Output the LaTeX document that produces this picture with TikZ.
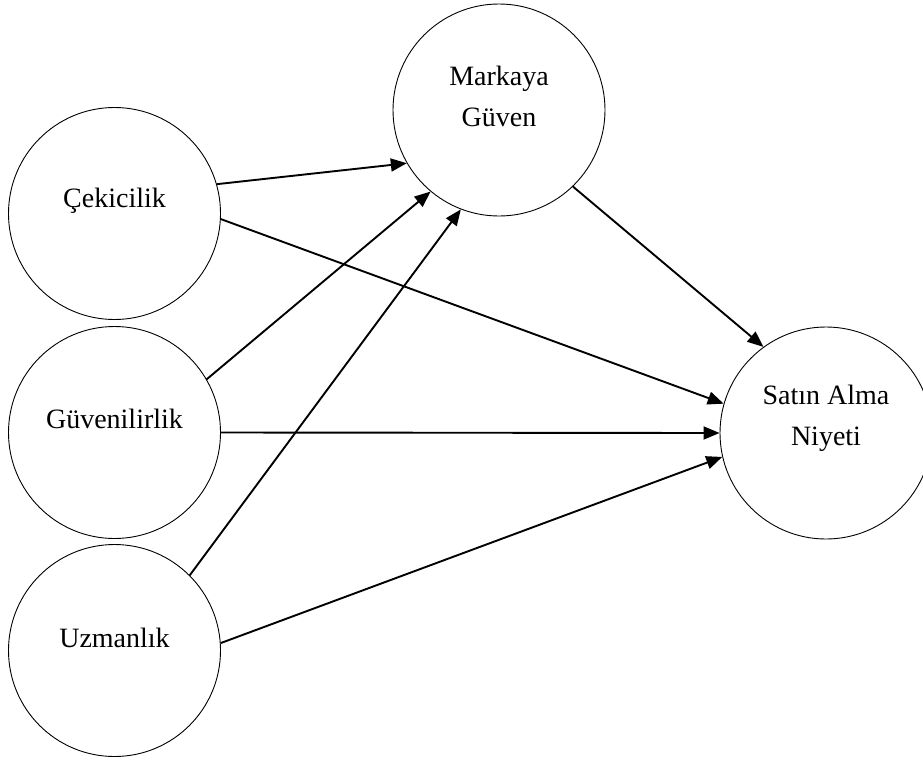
\documentclass[tikz,border=0pt]{standalone}
\usepackage{fontspec}
\setmainfont{Liberation Serif}
\usetikzlibrary{arrows.meta}
\begin{document}
\begin{tikzpicture}[x=1pt,y=-1pt,
  bub/.style={circle,draw,line width=0.9pt,minimum size=212pt,inner sep=0pt},
  lbl/.style={font=\fontsize{28}{41}\selectfont,align=center,inner sep=0pt},
  con/.style={line width=1.9pt,-{Triangle[length=16pt,width=13pt]}}]
\useasboundingbox (0,0) rectangle (923,763);
\node[bub,label={[lbl,yshift=13pt]center:Çekicilik}] (C) at (114.5,213.5) {};
\node[bub,label={[lbl,yshift=14pt]center:Güvenilirlik}] (G) at (114.5,432.5) {};
\node[bub,label={[lbl,yshift=13pt]center:Uzmanlık}] (U) at (114.5,650.5) {};
\node[bub,label={[lbl,yshift=13.5pt]center:Markaya\\Güven}] (M) at (499,110) {};
\node[bub,label={[lbl,yshift=15pt]center:Satın Alma\\Niyeti}] (S) at (826,433) {};
\draw[con] (C.16.8) -- (M.210.3);
\draw[con] (C.-3.4) -- (S.164.5);
\draw[con] (G.30.6) -- (M.230);
\draw[con] (G.0) -- (S.180);
\draw[con] (U.45.5) -- (M.249);
\draw[con] (U.4.2) -- (S.193.3);
\draw[con] (M.-46) -- (S.126.9);
\end{tikzpicture}
\end{document}
